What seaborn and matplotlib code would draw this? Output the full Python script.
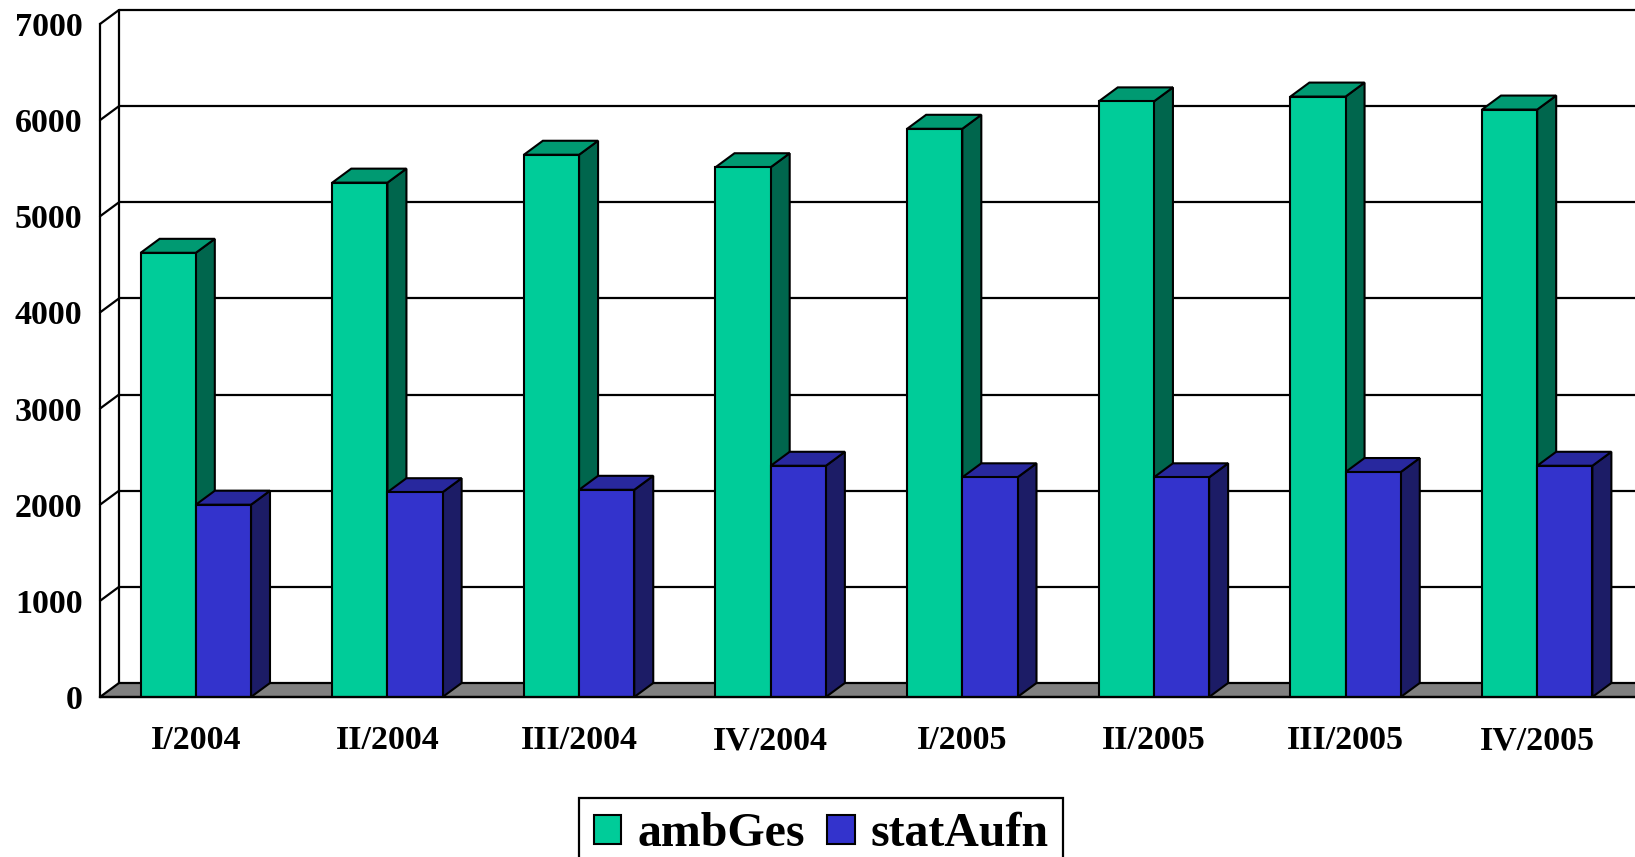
import matplotlib
matplotlib.use("Agg")
import matplotlib.pyplot as plt
from matplotlib.patches import Polygon
import seaborn as sns
import pandas as pd

# ---- data ----
quarters = ["I/2004", "II/2004", "III/2004", "IV/2004",
            "I/2005", "II/2005", "III/2005", "IV/2005"]
amb_ges = [4620, 5350, 5640, 5510, 5910, 6195, 6245, 6110]
stat_aufn = [2000, 2130, 2155, 2405, 2285, 2285, 2340, 2405]
series_names = ["ambGes", "statAufn"]
y_ticks = [0, 1000, 2000, 3000, 4000, 5000, 6000, 7000]

df = pd.DataFrame({
    "quarter": quarters * 2,
    "value": amb_ges + stat_aufn,
    "series": [series_names[0]] * len(quarters) + [series_names[1]] * len(quarters),
})

# ---- style ----
sns.set_style("white")
plt.rcParams["font.family"] = ["Liberation Serif", "DejaVu Serif"]
plt.rcParams["font.weight"] = "bold"
plt.rcParams["text.color"] = "black"
plt.rcParams["xtick.color"] = "black"
plt.rcParams["ytick.color"] = "black"

front_cols = ["#00CC99", "#3333CC"]
top_cols = ["#009A72", "#28289E"]
side_cols = ["#00664D", "#1C1C66"]

W, H = 1635, 857
fig = plt.figure(figsize=(W / 100, H / 100), dpi=100)
ax_left, ax_right, ax_top, ax_bot = 100, 1633, 24, 697
ax = fig.add_axes([ax_left / W, (H - ax_bot) / H,
                   (ax_right - ax_left) / W, (ax_bot - ax_top) / H])

sns.barplot(data=df, x="quarter", y="value", hue="series", palette=front_cols,
            width=0.576, edgecolor="black", linewidth=1.5, saturation=1,
            legend=False, ax=ax, zorder=3)

n = len(quarters)
ax.set_xlim(-0.5, n - 0.5)
ax.set_ylim(0, 7000)

# depth offset (pixels -> data units)
DX = 19 * n / (ax_right - ax_left)
DY = 14 * 7000 / (ax_bot - ax_top)

x0, x1 = -0.5, n - 0.5
lw = 1.6
# back wall grid lines
for v in y_ticks[1:]:
    ax.plot([x0 + DX, x1 + DX + 0.5], [v + DY, v + DY], color="black",
            lw=lw, zorder=1, clip_on=False, solid_capstyle="butt")
    ax.plot([x0, x0 + DX], [v, v + DY], color="black", lw=lw, zorder=1,
            clip_on=False)
# left wall back edge
ax.plot([x0 + DX, x0 + DX], [DY, 7000 + DY], color="black", lw=lw,
        zorder=1, clip_on=False)
# floor
floor = Polygon([(x0, 0), (x1 + 0.5, 0), (x1 + 0.5 + DX, DY), (x0 + DX, DY)],
                closed=True, facecolor="#808080", edgecolor="black", lw=lw,
                zorder=1.5, clip_on=False)
ax.add_patch(floor)

# 3D faces for each bar
bars = [p for p in ax.patches if p is not floor]
for i, p in enumerate(bars):
    s = 0 if i < n else 1
    bx, bw, bh = p.get_x(), p.get_width(), p.get_height()
    top = Polygon([(bx, bh), (bx + bw, bh), (bx + bw + DX, bh + DY), (bx + DX, bh + DY)],
                  closed=True, facecolor=top_cols[s], edgecolor="black", lw=1.5,
                  zorder=2.5, clip_on=False)
    side = Polygon([(bx + bw, 0), (bx + bw + DX, DY), (bx + bw + DX, bh + DY), (bx + bw, bh)],
                   closed=True, facecolor=side_cols[s], edgecolor="black", lw=1.5,
                   zorder=2, clip_on=False)
    ax.add_patch(top)
    ax.add_patch(side)

# axes / ticks
for sp in ["top", "right"]:
    ax.spines[sp].set_visible(False)
for sp in ["left", "bottom"]:
    ax.spines[sp].set_color("black")
    ax.spines[sp].set_linewidth(lw)
    ax.spines[sp].set_zorder(4)
ax.spines["bottom"].set_bounds(x0, x1 + 0.5)

ax.set_yticks(y_ticks)
ax.set_yticklabels([str(v) for v in y_ticks])
ax.set_xticks(range(n))
ax.set_xticklabels(quarters)
ax.set_xticks([x0 + k for k in range(n + 1)], minor=True)
ax.tick_params(axis="y", length=8.6, width=lw, direction="out", pad=4,
               labelsize=24.5, colors="black")
ax.tick_params(axis="x", which="major", length=0, pad=20.5, labelsize=24.5,
               colors="black")
ax.tick_params(axis="x", which="minor", length=8, width=lw, direction="out",
               colors="black")
for t in ax.get_xticklabels() + ax.get_yticklabels():
    t.set_fontweight("bold")
    t.set_color("black")
ax.set_xlabel("")
ax.set_ylabel("")
ax.grid(False)

# legend
handles = [bars[0], bars[n]]
leg = fig.legend(handles, series_names, loc="upper center",
                 bbox_to_anchor=(821 / W, (H - 798) / H), ncol=2,
                 frameon=True, fancybox=False, edgecolor="black", framealpha=1,
                 prop={"family": "Liberation Serif", "weight": "bold", "size": 34.5},
                 handlelength=0.58, handleheight=0.58, handletextpad=0.33,
                 columnspacing=0.46, borderpad=0.3, borderaxespad=0)
leg.get_frame().set_linewidth(lw)
for t in leg.get_texts():
    t.set_color("black")

fig.savefig("out.png", dpi=100)
